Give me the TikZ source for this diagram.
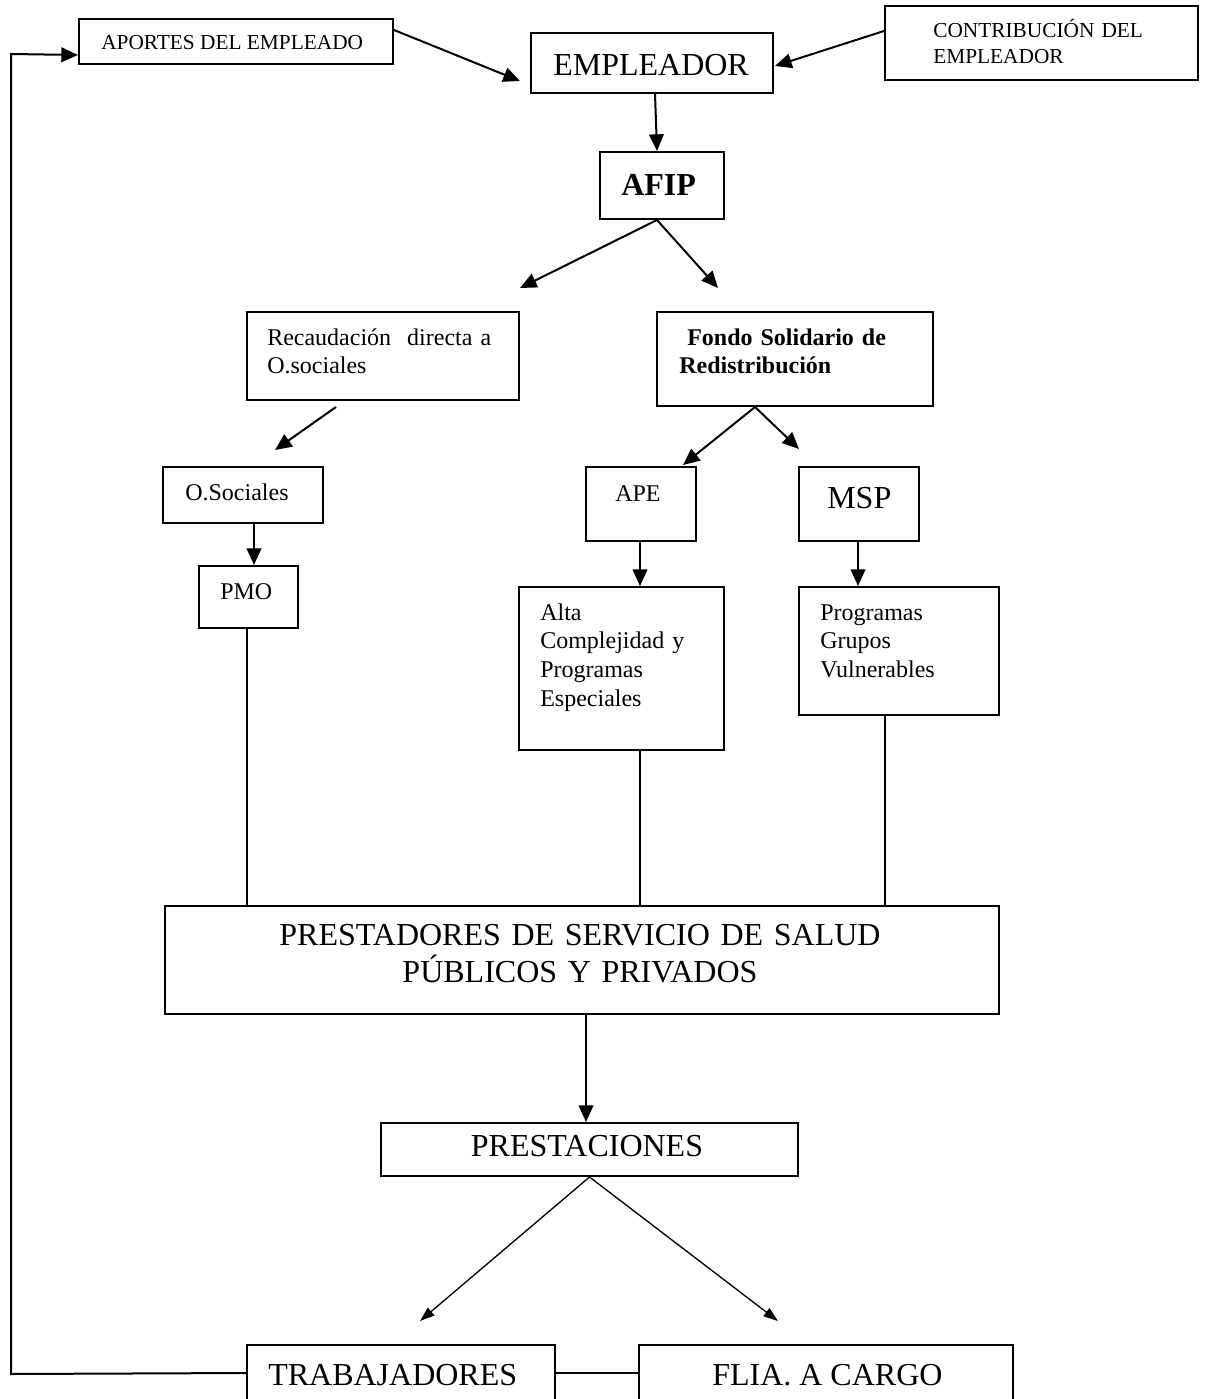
\documentclass[tikz,border=0pt]{standalone}
\usepackage{fontspec}
\setmainfont{Liberation Serif}
\usetikzlibrary{arrows.meta,fit,calc}
\begin{document}
\begin{tikzpicture}[x=0.75pt,y=-0.75pt,
 box/.style={draw,line width=1.5pt,inner sep=0pt},
 lbl/.style={inner sep=0pt,anchor=base west},
 mlbl/.style={inner sep=0pt,anchor=base west,text width=300pt,align=left},
 arr/.style={line width=1.5pt,-{Triangle[length=12.5pt,width=11pt]}},
 thinarr/.style={line width=1pt,-{Triangle[length=11pt,width=7.5pt]}},
 ln/.style={line width=1.5pt},
 sm/.style={font=\fontsize{16}{19.5}\selectfont},
 md/.style={font=\fontsize{18}{21.5}\selectfont},
 mdb/.style={font=\fontsize{18}{21.5}\selectfont\bfseries},
 lg/.style={font=\fontsize{24}{28.3}\selectfont},
 lgb/.style={font=\fontsize{24}{28.3}\selectfont\bfseries},
]
\clip (0,0) rectangle (1206,1399);
\fill[white] (0,0) rectangle (1206,1399);

% boxes
\node[box,fit={(79,19)(393,64)}] (apor) {};
\node[box,fit={(531,33)(773,93)}] (emp) {};
\node[box,fit={(885,6)(1198,80)}] (contr) {};
\node[box,fit={(600,152)(724,219)}] (afip) {};
\node[box,fit={(247,312)(519,400)}] (reca) {};
\node[box,fit={(657,312)(933,406)}] (fondo) {};
\node[box,fit={(163,467)(323,523)}] (osoc) {};
\node[box,fit={(199,566)(298,628)}] (pmo) {};
\node[box,fit={(586,467)(696,541)}] (ape) {};
\node[box,fit={(799,467)(919,541)}] (msp) {};
\node[box,fit={(519,587)(724,750)}] (alta) {};
\node[box,fit={(799,587)(999,715)}] (prog) {};
\node[box,fit={(165,906)(999,1014)}] (prest) {};
\node[box,fit={(381,1123)(798,1176)}] (presta) {};
\node[box,fit={(247,1345)(555,1420)}] (trab) {};
\node[box,fit={(639,1345)(1013,1420)}] (flia) {};

% texts
\node[lbl,sm] (taport) at (101,49) {APORTES DEL EMPLEADO};
\node[lbl,lg] (temp) at (553,75) {EMPLEADOR};
\node[mlbl,sm] (tcontr) at (933,37) {CONTRIBUCIÓN DEL\\EMPLEADOR};
\node[lbl,lgb] (tafip) at (621,195) {AFIP};
\node[mlbl,md] (treca) at (267,345) {Recaudación\ \ directa a\\O.sociales};
\node[mlbl,mdb] (tfondo) at (679,345) {\ Fondo Solidario de\\Redistribución};
\node[lbl,md] (tosoc) at (185,500) {O.Sociales};
\node[lbl,md] (tpmo) at (220,599) {PMO};
\node[lbl,md] (tape) at (615,501) {APE};
\node[lbl,lg] (tmsp) at (827,508) {MSP};
\node[mlbl,md] (talta) at (540,620) {Alta\\Complejidad y\\Programas\\Especiales};
\node[mlbl,md] (tprog) at (820,620) {Programas\\Grupos\\Vulnerables};
\node[lg,inner sep=0pt,anchor=base,text width=700pt,align=center] (tprest) at (580,945) {PRESTADORES DE SERVICIO DE SALUD\\PÚBLICOS Y PRIVADOS};
\node[lg,inner sep=0pt,anchor=base] (tpresta) at (587,1156) {PRESTACIONES};
\node[lbl,lg] (ttrab) at (268,1385) {TRABAJADORES};
\node[lbl,lg] (tflia) at (712,1385) {FLIA. A CARGO};

% free arrow ends
\coordinate (t1) at (520,81);
\coordinate (t2) at (520,288);
\coordinate (t3) at (718,288);
\coordinate (s4) at ($(reca.south)+(-47,6)$);
\coordinate (t4) at ($(osoc.north)+(32,-16)$);
\coordinate (t5) at ($(ape.north)+(42,-1)$);
\coordinate (t6) at ($(msp.north)+(-60,-17)$);
\coordinate (t7) at ($(trab.north)+(19,-23)$);
\coordinate (t8) at ($(flia.north)+(-48,-23)$);
\coordinate (c1) at (11,1374);
\coordinate (c2) at (11,54);

% connectors
\draw[arr] ($(apor.north east)+(0,12)$) -- (t1);
\draw[arr] ($(contr.north west)+(0,26)$) -- ($(emp.east)+(1,3)$);
\draw[arr] ($(emp.south)+(3,0)$) -- ($(afip.north)+(-5,0)$);
\draw[arr] ($(afip.south)+(-5,0)$) -- (t2);
\draw[arr] ($(afip.south)+(-5,0)$) -- (t3);
\draw[arr] (s4) -- (t4);
\draw[arr] ($(osoc.south)+(11,0)$) -- ($(pmo.north)+(5.5,0)$);
\draw[arr] ($(fondo.south)+(-40,0)$) -- (t5);
\draw[arr] ($(fondo.south)+(-40,0)$) -- (t6);
\draw[arr] ($(ape.south)+(-1,0)$) -- ($(alta.north)+(18.5,0)$);
\draw[arr] ($(msp.south)+(-1,0)$) -- ($(prog.north)+(-41,0)$);
\draw[ln] ($(pmo.south)+(-1.5,0)$) -- ($(prest.north)+(-335,0)$);
\draw[ln] ($(alta.south)+(18.5,0)$) -- ($(prest.north)+(58,0)$);
\draw[ln] ($(prog.south)+(-14,0)$) -- ($(prest.north)+(303,0)$);
\draw[arr] ($(prest.south)+(4,0)$) -- ($(presta.north)+(-3.5,0)$);
\draw[thinarr] (presta.south) -- (t7);
\draw[thinarr] (presta.south) -- (t8);
\draw[ln] ($(trab.north east)+(0,29)$) -- ($(flia.north west)+(0,29)$);
\draw[arr] ($(trab.north west)+(0,29)$) -- (c1) -- (c2) -- ($(apor.south west)+(0,-10)$);
\end{tikzpicture}
\end{document}
